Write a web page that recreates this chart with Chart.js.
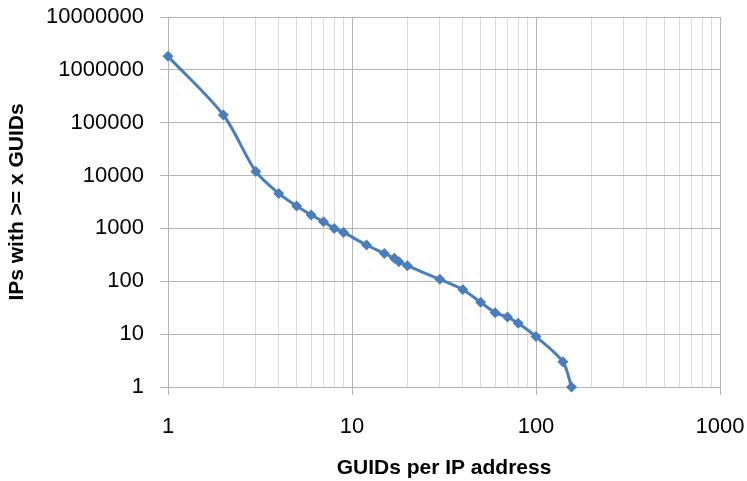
<!DOCTYPE html>
<html>
<head>
<meta charset="utf-8">
<script src="https://cdn.jsdelivr.net/npm/chart.js@4/dist/chart.umd.min.js"></script>
<style>
  html, body { margin: 0; padding: 0; background: #fff; }
  #wrap { width: 747px; height: 481px; }
</style>
</head>
<body>
<div id="wrap"><canvas id="guidChart" width="747" height="481"></canvas></div>
<script>
// GUIDs per IP address (x) vs number of IPs with >= x GUIDs (y)
const guidsPerIp = [1, 2, 3, 4, 5, 6, 7, 8, 9, 12, 15, 17, 18, 20, 30, 40, 50, 60, 70, 80, 100, 140, 156];
const ipsWithAtLeast = [1800000, 140000, 12000, 4600, 2650, 1800, 1340, 1000, 840, 485, 336, 272, 234, 197, 109, 70, 40, 25.5, 21, 16, 9, 3, 1];

const xTickValues = [1, 10, 100, 1000];
const yTickValues = [1, 10, 100, 1000, 10000, 100000, 1000000, 10000000];

const lineColor = "#4a7ebb";
const majorGrid = "#b4b4b4";
const minorGrid = "#dadada";

function isPow10(v) {
  const l = Math.log10(v);
  return Math.abs(l - Math.round(l)) < 1e-9;
}

// drop the label overhang so the layout padding alone sets the plot box
function noOverhang(scale) {
  scale.paddingTop = 0;
  scale.paddingBottom = 0;
  scale.paddingLeft = 0;
  scale.paddingRight = 0;
}

const ctx = document.getElementById("guidChart").getContext("2d");

const chart = new Chart(ctx, {
  type: "line",
  data: {
    datasets: [
      {
        label: "IPs",
        data: guidsPerIp.map((x, i) => ({ x: x, y: ipsWithAtLeast[i] })),
        borderColor: lineColor,
        backgroundColor: lineColor,
        borderWidth: 3,
        tension: 0.3,
        pointStyle: "rectRot",
        pointRadius: 5.5,
        pointBorderWidth: 0,
        pointBackgroundColor: lineColor,
        clip: false,
      },
    ],
  },
  options: {
    responsive: false,
    animation: false,
    devicePixelRatio: 1,
    layout: {
      padding: { top: 17, right: 27, left: 0, bottom: 0 },
    },
    plugins: {
      legend: { display: false },
      tooltip: { enabled: false },
    },
    scales: {
      x: {
        type: "logarithmic",
        min: 1,
        max: 1000,
        afterBuildTicks: function (scale) {
          const ticks = [];
          for (let d = 1; d < 1000; d *= 10) {
            for (let k = 1; k < 10; k++) ticks.push({ value: d * k });
          }
          ticks.push({ value: 1000 });
          scale.ticks = ticks;
        },
        afterFit: function (scale) {
          scale.height = 94;
          noOverhang(scale);
        },
        ticks: {
          autoSkip: false,
          maxRotation: 0,
          padding: 19,
          color: "#000",
          font: { family: "Liberation Sans", size: 22 },
          callback: function (value) {
            return xTickValues.includes(value) ? String(value) : "";
          },
        },
        grid: {
          color: (c) => (c.tick && isPow10(c.tick.value) ? majorGrid : minorGrid),
          tickColor: (c) => (c.tick && isPow10(c.tick.value) ? majorGrid : "rgba(0,0,0,0)"),
          tickLength: 8,
          lineWidth: 1,
        },
        border: { color: majorGrid, width: 1 },
        title: {
          display: true,
          text: "GUIDs per IP address",
          color: "#000",
          padding: { top: 0, bottom: 0 },
          font: { family: "Liberation Sans", size: 21, weight: "bold" },
        },
      },
      y: {
        type: "logarithmic",
        min: 1,
        max: 10000000,
        afterBuildTicks: function (scale) {
          scale.ticks = yTickValues.map((v) => ({ value: v }));
        },
        afterFit: function (scale) {
          scale.width = 168;
          noOverhang(scale);
        },
        ticks: {
          padding: 16,
          color: "#000",
          font: { family: "Liberation Sans", size: 22 },
          callback: function (value) {
            return String(value);
          },
        },
        grid: {
          color: majorGrid,
          tickColor: majorGrid,
          tickLength: 8,
          lineWidth: 1,
        },
        border: { color: majorGrid, width: 1 },
        title: {
          display: true,
          text: "IPs with >= x GUIDs",
          color: "#000",
          padding: { top: 5, bottom: 0 },
          font: { family: "Liberation Sans", size: 21, weight: "bold" },
        },
      },
    },
  },
});
</script>
</body>
</html>
